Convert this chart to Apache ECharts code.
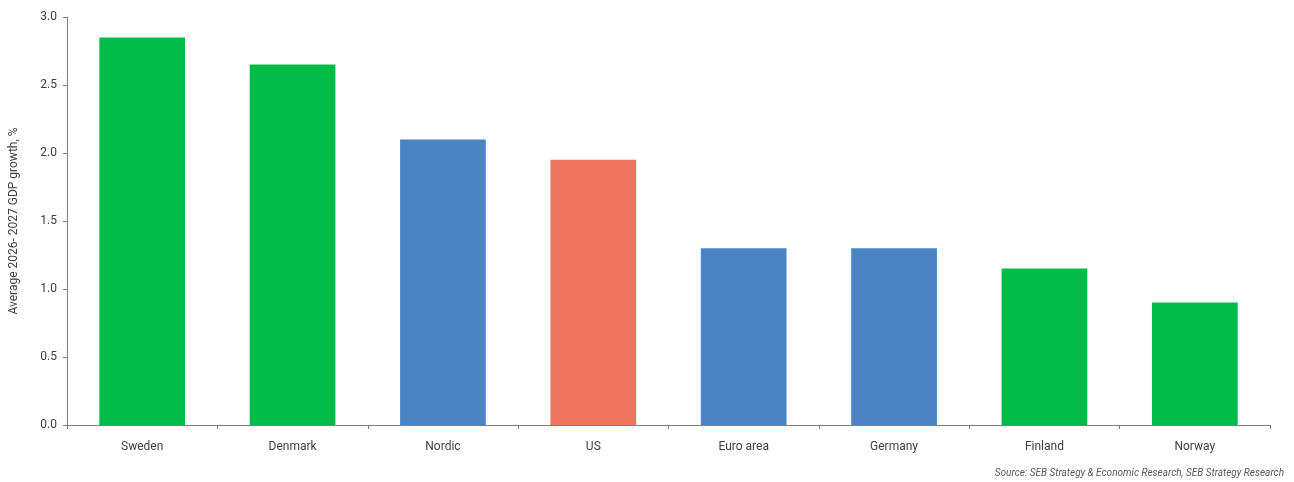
<!DOCTYPE html>
<html>
<head>
<meta charset="utf-8">
<script src="https://cdn.jsdelivr.net/npm/echarts@6/dist/echarts.min.js"></script>
<style>
  html, body { margin: 0; padding: 0; background: #fff; }
  #chart { width: 1294px; height: 482px; }
</style>
</head>
<body>
<div id="chart"></div>
<script>
const countries = ['Sweden', 'Denmark', 'Nordic', 'US', 'Euro area', 'Germany', 'Finland', 'Norway'];
const growth = [2.85, 2.65, 2.1, 1.95, 1.3, 1.3, 1.15, 0.9];
const barColors = ['#00bb45', '#00bb45', '#4a84c4', '#f07560', '#4a84c4', '#4a84c4', '#00bb45', '#00bb45'];
const yTicks = [0, 0.5, 1, 1.5, 2, 2.5, 3];

const chart = echarts.init(document.getElementById('chart'));
const fontFamily = 'Roboto, "Liberation Sans", sans-serif';

chart.setOption({
  animation: false,
  textStyle: { fontFamily: fontFamily },
  grid: {
    left: 64,
    right: 24,
    top: 17,
    bottom: 57,
  },
  xAxis: {
    type: 'category',
    data: countries,
    boundaryGap: true,
    axisLine: { lineStyle: { color: '#7f7f7f', width: 1 } },
    axisTick: { show: true, alignWithLabel: false, length: 4, lineStyle: { color: '#7f7f7f' } },
    axisLabel: { color: '#404040', fontSize: 12, margin: 16 },
  },
  yAxis: {
    type: 'value',
    min: yTicks[0],
    max: yTicks[yTicks.length - 1],
    interval: 0.5,
    name: 'Average 2026- 2027 GDP growth, %',
    nameLocation: 'middle',
    nameGap: 47,
    nameTextStyle: { color: '#404040', fontSize: 12 },
    splitLine: { show: false },
    axisLine: { show: true, lineStyle: { color: '#7f7f7f', width: 1 } },
    axisTick: { show: true, length: 4, lineStyle: { color: '#7f7f7f' } },
    axisLabel: {
      color: '#404040',
      fontSize: 12,
      margin: 10,
      formatter: function (v) { return v.toFixed(1); },
    },
  },
  series: [{
    type: 'bar',
    barWidth: '57%',
    data: growth.map(function (v, i) {
      return { value: v, itemStyle: { color: barColors[i] } };
    }),
  }],
  graphic: [{
    type: 'text',
    right: 10,
    top: 468,
    style: {
      text: 'Source: SEB Strategy & Economic Research, SEB Strategy Research',
      fill: '#595959',
      fontSize: 10,
      fontStyle: 'italic',
      fontFamily: fontFamily,
    },
  }],
});

window.addEventListener('resize', () => {
  chart.resize();
});
</script>
</body>
</html>
